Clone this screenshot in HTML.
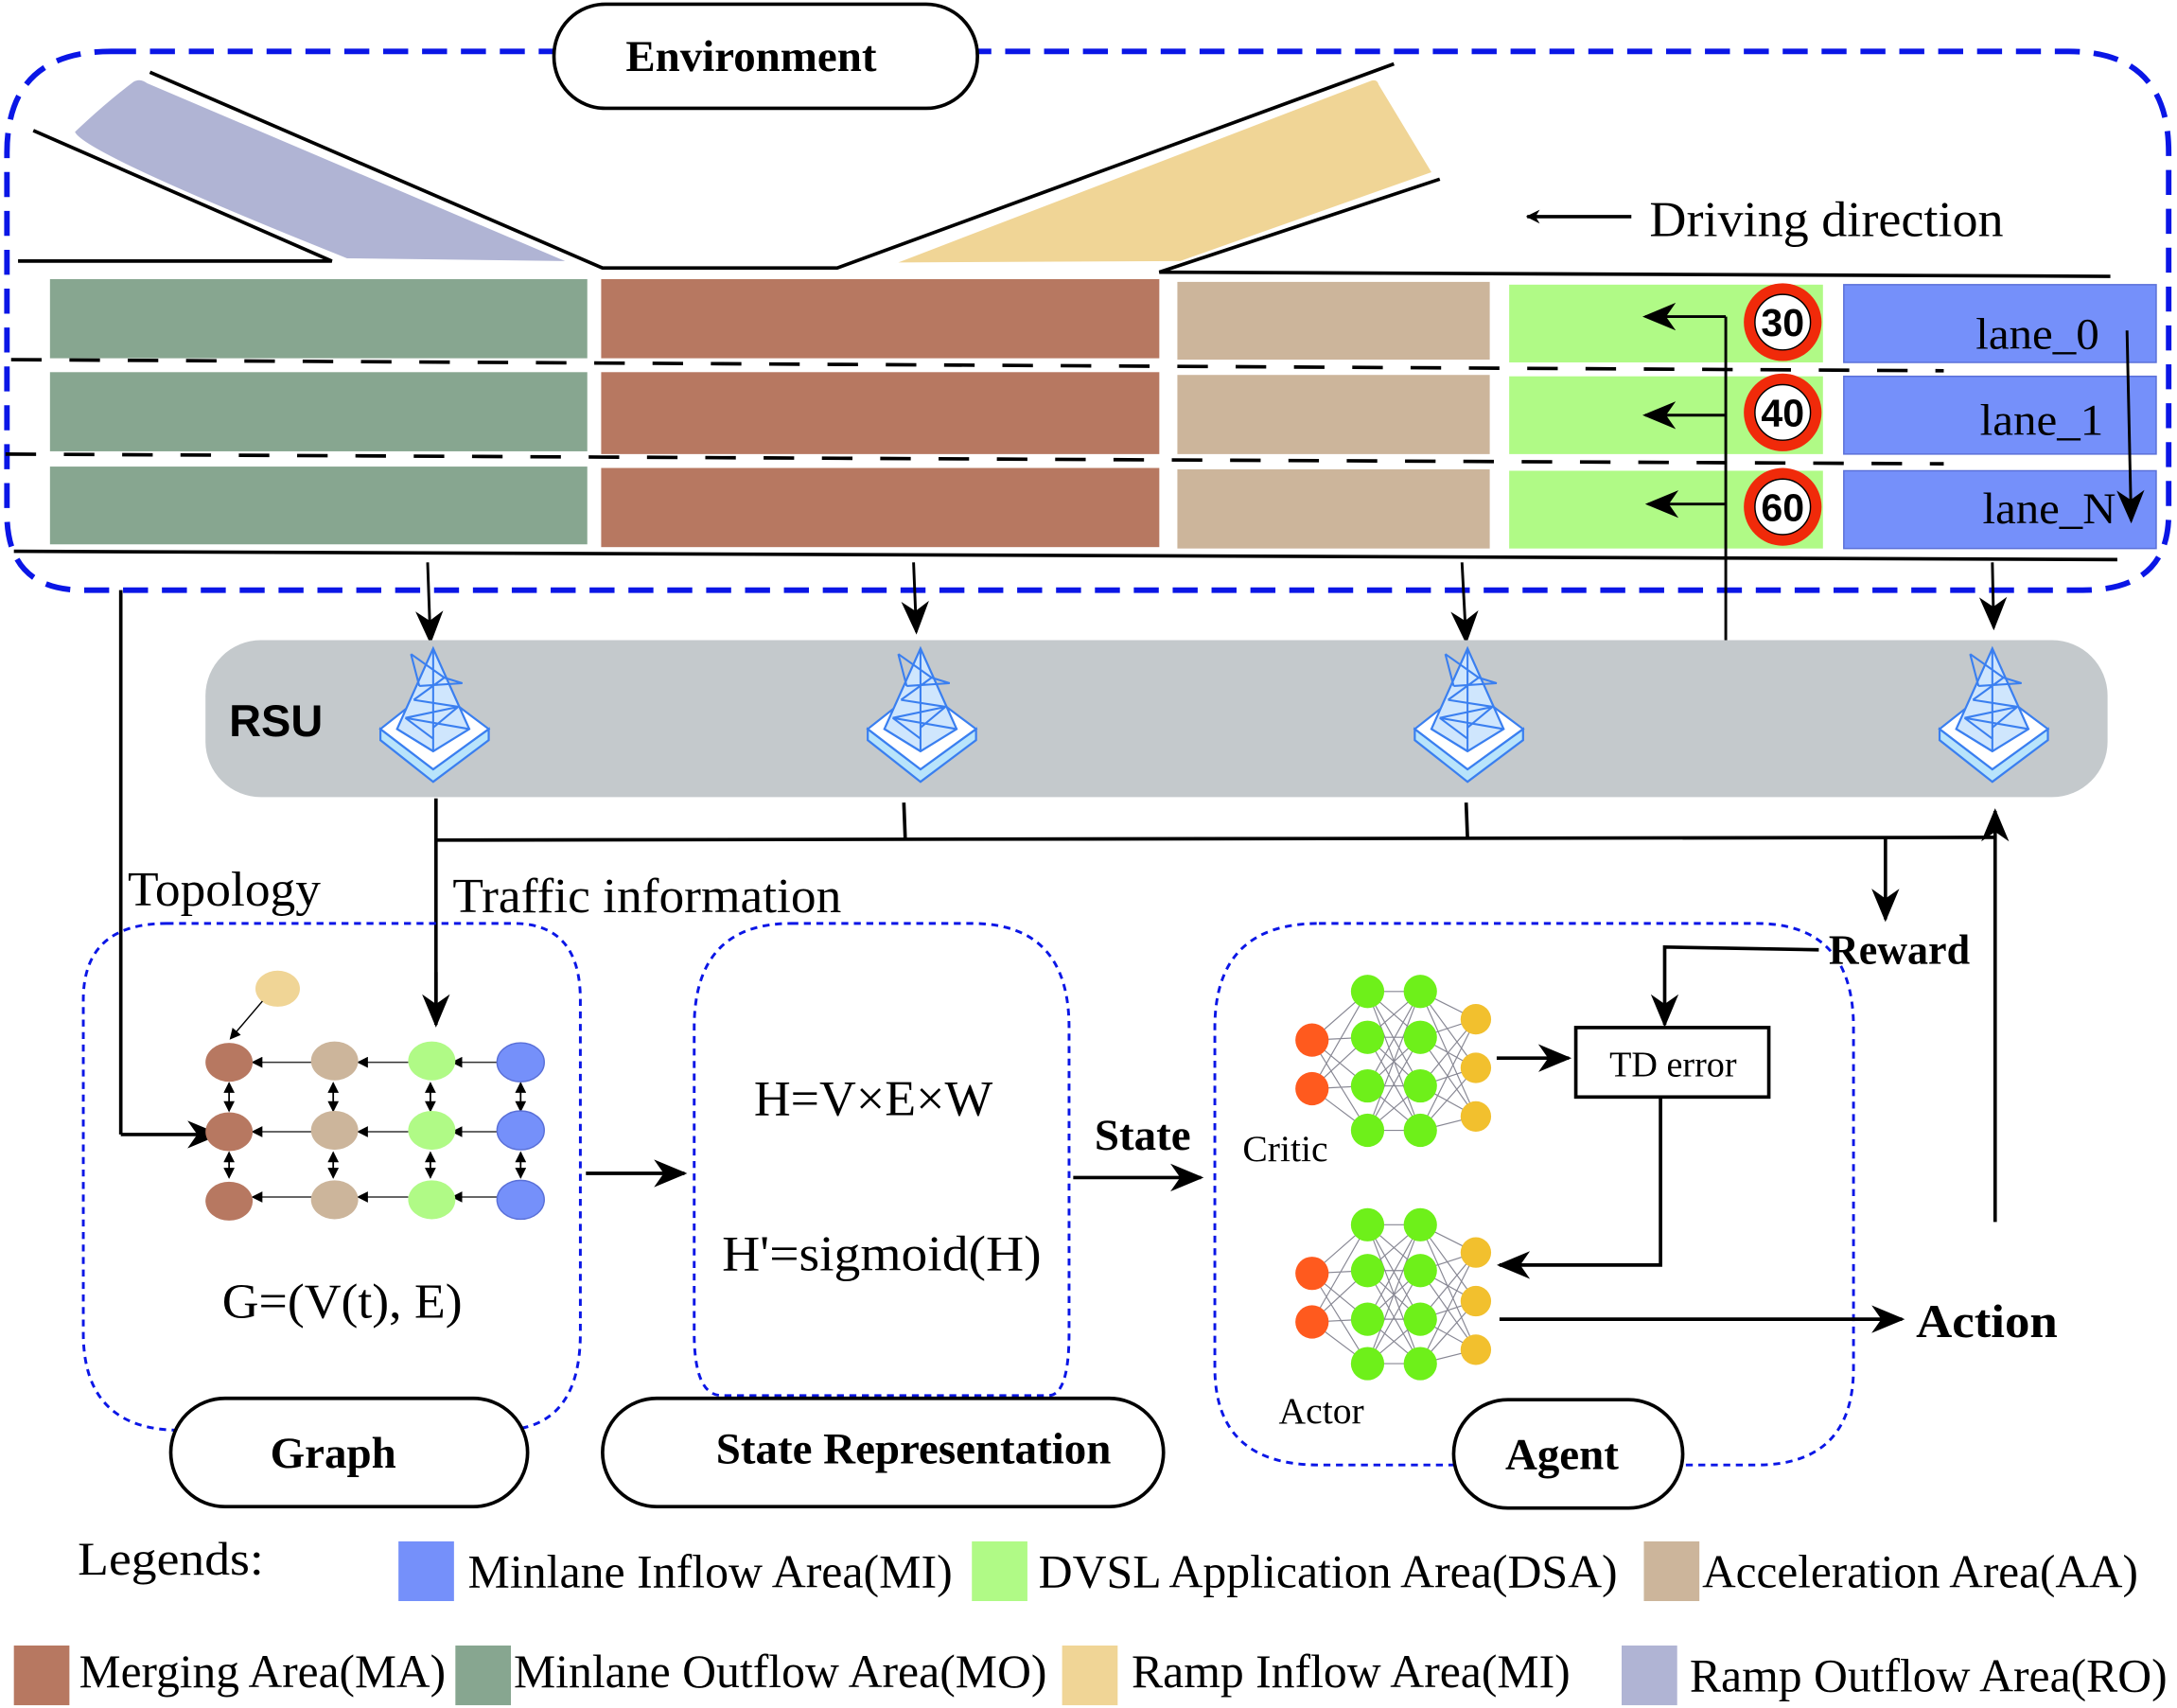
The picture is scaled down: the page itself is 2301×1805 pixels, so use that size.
<!DOCTYPE html>
<html><head><meta charset="utf-8"><style>html,body{margin:0;padding:0;background:#fff}svg{display:block}</style></head>
<body>
<svg width="2301" height="1805" viewBox="0 0 1568 1230" xmlns="http://www.w3.org/2000/svg" font-family="Liberation Serif, serif">
<defs>
<marker id="ah" markerWidth="10" markerHeight="10" refX="9" refY="5" orient="auto" markerUnits="userSpaceOnUse" viewBox="0 0 10 10"><path d="M0,0 L10,5 L0,10 L3,5z" fill="#000"/></marker>
<marker id="ab" markerWidth="24" markerHeight="20" refX="22" refY="10" orient="auto" markerUnits="userSpaceOnUse"><path d="M0,0 L24,10 L0,20 L7,10z" fill="#000"/></marker>
<marker id="as" markerWidth="8" markerHeight="8" refX="7" refY="4" orient="auto" markerUnits="userSpaceOnUse"><path d="M0,0 L8,4 L0,8z" fill="#000"/></marker>
<marker id="as2" markerWidth="8" markerHeight="8" refX="1" refY="4" orient="auto" markerUnits="userSpaceOnUse"><path d="M8,0 L0,4 L8,8z" fill="#000"/></marker>
<g id="tower">
<path d="M-38,13 L-38,21 L0,51 L40,21 L40,13 L0,42z" fill="#b8e4fb" stroke="#3a7ff0" stroke-width="1.5"/>
<path d="M-38,13 L0,-17 L40,13 L0,42z" fill="#fff" stroke="#3a7ff0" stroke-width="1.5"/>
<path d="M-26,13 L0,-45 L26,13 L0,29z" fill="#cfe6fd" stroke="#3a7ff0" stroke-width="1.5"/>
<path d="M0,-45 L0,29 M-16,-41 L-10,-18 M-16,-41 L8,-24 L21,-20 L-10,-18 M-14,-8 L8,-24 M-14,-8 L18,-3 L-20,5 L26,13 M-20,5 L0,20 M18,-3 L0,12 M-26,13 L0,29" fill="none" stroke="#3a7ff0" stroke-width="1.4"/>
</g>
<g id="nn">
<g stroke="#556" stroke-width="0.8" opacity="0.7">
<path d="M0,35 L40,0 M0,35 L40,33 M0,35 L40,68 M0,35 L40,100 M0,70 L40,0 M0,70 L40,33 M0,70 L40,68 M0,70 L40,100
M40,0 L78,0 M40,0 L78,33 M40,0 L78,68 M40,0 L78,100 M40,33 L78,0 M40,33 L78,33 M40,33 L78,68 M40,33 L78,100 M40,68 L78,0 M40,68 L78,33 M40,68 L78,68 M40,68 L78,100 M40,100 L78,0 M40,100 L78,33 M40,100 L78,68 M40,100 L78,100
M78,0 L118,20 M78,0 L118,55 M78,0 L118,90 M78,33 L118,20 M78,33 L118,55 M78,33 L118,90 M78,68 L118,20 M78,68 L118,55 M78,68 L118,90 M78,100 L118,20 M78,100 L118,55 M78,100 L118,90"/>
</g>
<circle cx="0" cy="35" r="12" fill="#ff5a1e"/><circle cx="0" cy="70" r="12" fill="#ff5a1e"/>
<circle cx="40" cy="0" r="12" fill="#6ef01a"/><circle cx="40" cy="33" r="12" fill="#6ef01a"/><circle cx="40" cy="68" r="12" fill="#6ef01a"/><circle cx="40" cy="100" r="12" fill="#6ef01a"/>
<circle cx="78" cy="0" r="12" fill="#6ef01a"/><circle cx="78" cy="33" r="12" fill="#6ef01a"/><circle cx="78" cy="68" r="12" fill="#6ef01a"/><circle cx="78" cy="100" r="12" fill="#6ef01a"/>
<circle cx="118" cy="20" r="11" fill="#f2c02e"/><circle cx="118" cy="55" r="11" fill="#f2c02e"/><circle cx="118" cy="90" r="11" fill="#f2c02e"/>
</g>
</defs>

<path d="M80,37 L1490,37 Q1562,37 1562,110 L1562,370 Q1562,425 1500,425 L60,425 Q5,425 5,370 L5,110 Q5,37 80,37z" fill="none" stroke="#0a16e6" stroke-width="4" stroke-dasharray="18,10"/>
<rect x="399" y="3" width="305" height="75" rx="37" fill="#fff" stroke="#000" stroke-width="2.5"/>
<text x="541" y="51" font-size="32" font-weight="bold" text-anchor="middle">Environment</text>

<path d="M96,59 Q101,56 106,60 L407,188 L250,186 Q60,110 54,95 Q75,75 96,59 Z" fill="#b0b4d4"/>
<path d="M647,189 L988,58 Q992,57 993,61 L1031,124 L850,188 Z" fill="#f0d596"/>
<path d="M24,94 L239,188 L13,188 M108,52 L434,193 L603,193 L1004,46 M1037,129 L835,196 L1520,199" stroke="#000" stroke-width="2.5" fill="none"/>
<path d="M10,397 L1525,403" stroke="#000" stroke-width="2.5"/>

<line x1="1175" y1="156" x2="1100" y2="156" stroke="#000" stroke-width="2.5" marker-end="url(#ah)"/>
<text x="1188" y="170" font-size="36" textLength="255" lengthAdjust="spacingAndGlyphs">Driving direction</text>

<g>
<rect x="36" y="201" width="387" height="57" fill="#87a690"/>
<rect x="36" y="268" width="387" height="57" fill="#87a690"/>
<rect x="36" y="336" width="387" height="56" fill="#87a690"/>
<rect x="433" y="201" width="402" height="57" fill="#b77861"/>
<rect x="433" y="268" width="402" height="59" fill="#b77861"/>
<rect x="433" y="337" width="402" height="57" fill="#b77861"/>
<rect x="848" y="203" width="225" height="56" fill="#ccb59b"/>
<rect x="848" y="270" width="225" height="57" fill="#ccb59b"/>
<rect x="848" y="338" width="225" height="57" fill="#ccb59b"/>
<rect x="1087" y="205" width="226" height="56" fill="#b0fa86"/>
<rect x="1087" y="271" width="226" height="56" fill="#b0fa86"/>
<rect x="1087" y="339" width="226" height="56" fill="#b0fa86"/>
<rect x="1328" y="205" width="225" height="56" fill="#7590fa" stroke="#5a70d8"/>
<rect x="1328" y="271" width="225" height="56" fill="#7590fa" stroke="#5a70d8"/>
<rect x="1328" y="339" width="225" height="56" fill="#7590fa" stroke="#5a70d8"/>
</g>
<path d="M8,259 L1400,267" stroke="#000" stroke-width="2.5" stroke-dasharray="22,20"/>
<path d="M4,327 L1400,334" stroke="#000" stroke-width="2.5" stroke-dasharray="22,20"/>
<text x="1512" y="251" font-size="32" text-anchor="end" textLength="89" lengthAdjust="spacingAndGlyphs">lane_0</text>
<text x="1515" y="313" font-size="32" text-anchor="end" textLength="89" lengthAdjust="spacingAndGlyphs">lane_1</text>
<text x="1524" y="377" font-size="32" text-anchor="end" textLength="96" lengthAdjust="spacingAndGlyphs">lane_N</text>
<line x1="1532" y1="238" x2="1535" y2="375" stroke="#000" stroke-width="2" marker-end="url(#ab)"/>

<line x1="1243" y1="462" x2="1243" y2="228" stroke="#000" stroke-width="2"/>
<line x1="1243" y1="228" x2="1185" y2="228" stroke="#000" stroke-width="2" marker-end="url(#ab)"/>
<line x1="1243" y1="299" x2="1185" y2="299" stroke="#000" stroke-width="2" marker-end="url(#ab)"/>
<line x1="1243" y1="363" x2="1187" y2="363" stroke="#000" stroke-width="2" marker-end="url(#ab)"/>
<g font-family="Liberation Sans Narrow, Liberation Sans, sans-serif" font-weight="bold" text-anchor="middle" font-size="28">
<circle cx="1284" cy="232" r="28" fill="#f02a0a"/><circle cx="1284" cy="232" r="20" fill="#fff" stroke="#000" stroke-width="1"/><text x="1284" y="242">30</text>
<circle cx="1284" cy="297" r="28" fill="#f02a0a"/><circle cx="1284" cy="297" r="20" fill="#fff" stroke="#000" stroke-width="1"/><text x="1284" y="307">40</text>
<circle cx="1284" cy="365" r="28" fill="#f02a0a"/><circle cx="1284" cy="365" r="20" fill="#fff" stroke="#000" stroke-width="1"/><text x="1284" y="375">60</text>
</g>

<g stroke="#000" stroke-width="2">
<line x1="308" y1="405" x2="310" y2="462" marker-end="url(#ab)"/>
<line x1="658" y1="405" x2="660" y2="455" marker-end="url(#ab)"/>
<line x1="1053" y1="405" x2="1056" y2="462" marker-end="url(#ab)"/>
<line x1="1435" y1="405" x2="1436" y2="452" marker-end="url(#ab)"/>
</g>

<rect x="148" y="461" width="1370" height="113" rx="40" fill="#c4c9cc"/>
<text x="165" y="530" font-size="32" font-weight="bold" font-family="Liberation Sans, sans-serif">RSU</text>
<use href="#tower" x="312" y="512"/>
<use href="#tower" x="663" y="512"/>
<use href="#tower" x="1057" y="512"/>
<use href="#tower" x="1435" y="512"/>

<g stroke="#000" stroke-width="2.5" fill="none">
<path d="M314,575 L314,735"/>
<path d="M314,605 L1437,603"/>
<path d="M651,578 L652,604 M1056,578 L1057,604"/>
<line x1="1358" y1="604" x2="1358" y2="662" marker-end="url(#ab)"/>
<line x1="1437" y1="880" x2="1437" y2="584" marker-end="url(#ab)"/>
<line x1="314" y1="700" x2="314" y2="738" marker-end="url(#ab)"/>
<path d="M87,425 L87,817"/>
<line x1="87" y1="817" x2="157" y2="817" marker-end="url(#ab)"/>
</g>
<text x="92" y="652" font-size="35" textLength="139" lengthAdjust="spacingAndGlyphs">Topology</text>
<text x="326" y="657" font-size="35" textLength="280" lengthAdjust="spacingAndGlyphs">Traffic information</text>

<path d="M120,665 L370,665 Q418,665 418,720 L418,960 Q418,1030 360,1030 L130,1030 Q60,1030 60,960 L60,720 Q60,665 120,665z" fill="none" stroke="#0a16e6" stroke-width="2" stroke-dasharray="5,4"/>
<g>
<ellipse cx="200" cy="712" rx="16" ry="13" fill="#f0d596"/>
<line x1="189" y1="721" x2="166" y2="748" stroke="#000" stroke-width="1" marker-end="url(#as)"/>
<g stroke="#333" stroke-width="1">
<line x1="225" y1="765" x2="182" y2="765" marker-end="url(#as)"/>
<line x1="294" y1="765" x2="258" y2="765" marker-end="url(#as)"/>
<line x1="360" y1="765" x2="326" y2="765" marker-end="url(#as)"/>
<line x1="225" y1="815" x2="182" y2="815" marker-end="url(#as)"/>
<line x1="294" y1="815" x2="258" y2="815" marker-end="url(#as)"/>
<line x1="360" y1="815" x2="326" y2="815" marker-end="url(#as)"/>
<line x1="225" y1="862" x2="182" y2="862" marker-end="url(#as)"/>
<line x1="294" y1="862" x2="258" y2="862" marker-end="url(#as)"/>
<line x1="360" y1="862" x2="326" y2="862" marker-end="url(#as)"/>
</g>
<g stroke="#000" stroke-width="1.2">
<line x1="165" y1="780" x2="165" y2="800" marker-start="url(#as2)" marker-end="url(#as)"/>
<line x1="240" y1="780" x2="240" y2="800" marker-start="url(#as2)" marker-end="url(#as)"/>
<line x1="310" y1="780" x2="310" y2="800" marker-start="url(#as2)" marker-end="url(#as)"/>
<line x1="375" y1="780" x2="375" y2="800" marker-start="url(#as2)" marker-end="url(#as)"/>
<line x1="165" y1="830" x2="165" y2="848" marker-start="url(#as2)" marker-end="url(#as)"/>
<line x1="240" y1="830" x2="240" y2="848" marker-start="url(#as2)" marker-end="url(#as)"/>
<line x1="310" y1="830" x2="310" y2="848" marker-start="url(#as2)" marker-end="url(#as)"/>
<line x1="375" y1="830" x2="375" y2="848" marker-start="url(#as2)" marker-end="url(#as)"/>
</g>
<g>
<ellipse cx="165" cy="765" rx="17" ry="14" fill="#b77861"/><ellipse cx="165" cy="815" rx="17" ry="14" fill="#b77861"/><ellipse cx="165" cy="865" rx="17" ry="14" fill="#b77861"/>
<ellipse cx="241" cy="764" rx="17" ry="14" fill="#ccb59b"/><ellipse cx="241" cy="814" rx="17" ry="14" fill="#ccb59b"/><ellipse cx="241" cy="864" rx="17" ry="14" fill="#ccb59b"/>
<ellipse cx="311" cy="764" rx="17" ry="14" fill="#b0fa86"/><ellipse cx="311" cy="814" rx="17" ry="14" fill="#b0fa86"/><ellipse cx="311" cy="864" rx="17" ry="14" fill="#b0fa86"/>
<ellipse cx="375" cy="765" rx="17" ry="14" fill="#7590fa" stroke="#5a70d8"/><ellipse cx="375" cy="814" rx="17" ry="14" fill="#7590fa" stroke="#5a70d8"/><ellipse cx="375" cy="864" rx="17" ry="14" fill="#7590fa" stroke="#5a70d8"/>
</g>
</g>
<text x="160" y="949" font-size="35" textLength="173" lengthAdjust="spacingAndGlyphs">G=(V(t), E)</text>
<rect x="123" y="1007" width="257" height="78" rx="39" fill="#fff" stroke="#000" stroke-width="2.5"/>
<text x="240" y="1057" font-size="32" font-weight="bold" text-anchor="middle">Graph</text>

<line x1="422" y1="845" x2="493" y2="845" stroke="#000" stroke-width="2.5" marker-end="url(#ab)"/>

<path d="M570,665 L700,665 Q770,665 770,740 L770,960 Q770,1005 755,1005 L520,1005 Q500,1005 500,960 L500,740 Q500,665 570,665z" fill="none" stroke="#0a16e6" stroke-width="2" stroke-dasharray="5,4"/>
<text x="543" y="803" font-size="36" textLength="172" lengthAdjust="spacingAndGlyphs">H=V×E×W</text>
<text x="520" y="915" font-size="36" textLength="230" lengthAdjust="spacingAndGlyphs">H'=sigmoid(H)</text>
<rect x="434" y="1007" width="404" height="78" rx="39" fill="#fff" stroke="#000" stroke-width="2.5"/>
<text x="658" y="1054" font-size="32" font-weight="bold" text-anchor="middle">State Representation</text>

<line x1="773" y1="848" x2="865" y2="848" stroke="#000" stroke-width="2.5" marker-end="url(#ab)"/>
<text x="823" y="828" font-size="32" font-weight="bold" text-anchor="middle">State</text>

<path d="M950,665 L1265,665 Q1335,665 1335,740 L1335,985 Q1335,1055 1265,1055 L950,1055 Q875,1055 875,985 L875,740 Q875,665 950,665z" fill="none" stroke="#0a16e6" stroke-width="2" stroke-dasharray="5,4"/>
<use href="#nn" x="945" y="714"/>
<use href="#nn" x="945" y="882"/>
<text x="895" y="836" font-size="27">Critic</text>
<text x="921" y="1025" font-size="27">Actor</text>
<line x1="1078" y1="762" x2="1130" y2="762" stroke="#000" stroke-width="2.5" marker-end="url(#ab)"/>
<rect x="1135" y="740" width="139" height="50" fill="#fff" stroke="#000" stroke-width="2.5"/>
<text x="1205" y="775" font-size="26" text-anchor="middle">TD error</text>
<path d="M1310,684 L1199,682 L1199,738" fill="none" stroke="#000" stroke-width="2.5" marker-end="url(#ab)"/>
<path d="M1196,790 L1196,911 L1080,911" fill="none" stroke="#000" stroke-width="2.5" marker-end="url(#ab)"/>
<line x1="1080" y1="950" x2="1370" y2="950" stroke="#000" stroke-width="2.5" marker-end="url(#ab)"/>
<text x="1368" y="694" font-size="30" font-weight="bold" text-anchor="middle">Reward</text>
<text x="1380" y="963" font-size="34" font-weight="bold" textLength="102" lengthAdjust="spacingAndGlyphs">Action</text>
<rect x="1047" y="1008" width="165" height="78" rx="39" fill="#fff" stroke="#000" stroke-width="2.5"/>
<text x="1125" y="1058" font-size="32" font-weight="bold" text-anchor="middle">Agent</text>

<g font-size="34">
<text x="56" y="1134" textLength="134" lengthAdjust="spacingAndGlyphs">Legends:</text>
<rect x="287" y="1110" width="40" height="43" fill="#7590fa"/>
<text x="337" y="1143" textLength="349" lengthAdjust="spacingAndGlyphs">Minlane Inflow Area(MI)</text>
<rect x="700" y="1110" width="40" height="43" fill="#b0fa86"/>
<text x="748" y="1143" textLength="417" lengthAdjust="spacingAndGlyphs">DVSL Application Area(DSA)</text>
<rect x="1184" y="1110" width="40" height="43" fill="#ccb59b"/>
<text x="1226" y="1143" textLength="314" lengthAdjust="spacingAndGlyphs">Acceleration Area(AA)</text>
<rect x="10" y="1185" width="40" height="43" fill="#b77861"/>
<text x="57" y="1215" textLength="264" lengthAdjust="spacingAndGlyphs">Merging Area(MA)</text>
<rect x="328" y="1185" width="40" height="43" fill="#87a690"/>
<text x="370" y="1215" textLength="384" lengthAdjust="spacingAndGlyphs">Minlane Outflow Area(MO)</text>
<rect x="765" y="1185" width="40" height="43" fill="#f0d596"/>
<text x="815" y="1215" textLength="316" lengthAdjust="spacingAndGlyphs">Ramp Inflow Area(MI)</text>
<rect x="1168" y="1185" width="40" height="43" fill="#b0b4d4"/>
<text x="1217" y="1218" textLength="344" lengthAdjust="spacingAndGlyphs">Ramp Outflow Area(RO)</text>
</g>
</svg>
</body></html>
